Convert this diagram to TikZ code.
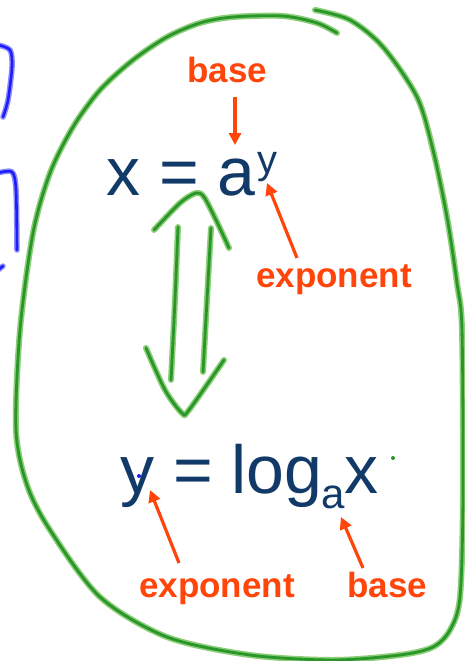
\documentclass[tikz,border=0pt]{standalone}
\usepackage{fontspec}
\setmainfont{Liberation Sans}
\usetikzlibrary{arrows.meta}
\definecolor{navy}{RGB}{18,58,104}
\definecolor{lbl}{RGB}{255,69,10}
\definecolor{pen}{RGB}{40,150,40}
\definecolor{penhalo}{RGB}{140,205,120}
\definecolor{bpen}{RGB}{30,30,250}
\definecolor{bhalo}{RGB}{140,140,255}
\tikzset{
  formula/.style={anchor=base west, inner sep=0pt, text=navy},
  label/.style={anchor=base west, inner sep=0pt, text=lbl, font=\fontsize{35}{35}\selectfont\bfseries},
  pointer/.style={draw=lbl, line width=3.2pt, -{Triangle[width=12pt,length=12pt]}},
  halo/.style={draw=penhalo, line width=6pt, line cap=round, line join=round},
  ink/.style={draw=pen, line width=2.8pt, line cap=round, line join=round},
  bhalo/.style={draw=bhalo, line width=5.5pt, line cap=round, line join=round},
  bink/.style={draw=bpen, line width=2.6pt, line cap=round, line join=round}
}
\newcommand{\greenstroke}[1]{\draw[halo] plot[smooth] coordinates {#1}; \draw[ink] plot[smooth] coordinates {#1};}
\newcommand{\bluestroke}[1]{\draw[bhalo] plot[smooth] coordinates {#1}; \draw[bink] plot[smooth] coordinates {#1};}
\begin{document}
\begin{tikzpicture}[x=1pt,y=-1pt]
\useasboundingbox (0,0) rectangle (465,661);
\fill[white] (0,0) rectangle (465,661);
% big loop
\greenstroke{(337,33) (317,23) (283,16) (233,17) (200,23) (167,37) (133,60) (100,90) (73,127) (50,173) (33,233) (20,330) (16,430) (27,485) (50,530) (100,597) (167,637) (250,655) (333,660) (400,655) (433,647) (450,630) (460,597) (463,497) (462,330) (457,283) (447,217) (433,150) (417,97) (383,47) (350,20) (315,10)}
% double arrow
\greenstroke{(154,230) (180,203) (196,193) (204,197) (216,220) (229,248)}
\greenstroke{(178,227) (175,300) (171,380)}
\greenstroke{(211,228) (207,300) (203,372)}
\greenstroke{(146,348) (165,390) (182,413) (189,410) (224,360)}
\fill[pen] (393,458) circle (2pt);
% blue strokes
\bluestroke{(-2,45) (10,50) (12,67) (8,100) (3,117)}
\bluestroke{(-2,173) (12,172) (16,190) (17,250)}
\bluestroke{(-2,270) (3,266)}
% formulas
\node[formula] (f1) at (106,195) {\fontsize{68}{68}\selectfont x = a\kern2pt\raisebox{22pt}{\fontsize{40}{40}\selectfont y}};
\node[formula] (f2) at (120,493) {\fontsize{68}{68}\selectfont y = log\kern-1pt\raisebox{-15pt}{\fontsize{42}{42}\selectfont a}x};
\fill[bpen] (139,476) circle (2pt);
% labels
\node[label] (b1) at (187,82) {base};
\node[label] (e1) at (256,287) {exponent};
\node[label] (e2) at (139,597) {exponent};
\node[label] (b2) at (347,597) {base};
\coordinate (b1t) at (235,97);
\coordinate (b1h) at (235,145);
\coordinate (e1t) at (297,258);
\coordinate (e1h) at (267,183);
\coordinate (e2t) at (179,563);
\coordinate (e2h) at (150,490);
\coordinate (b2t) at (363,568);
\coordinate (b2h) at (341,517);
\draw[pointer] (b1t) -- (b1h);
\draw[pointer] (e1t) -- (e1h);
\draw[pointer] (e2t) -- (e2h);
\draw[pointer] (b2t) -- (b2h);
\end{tikzpicture}
\end{document}
